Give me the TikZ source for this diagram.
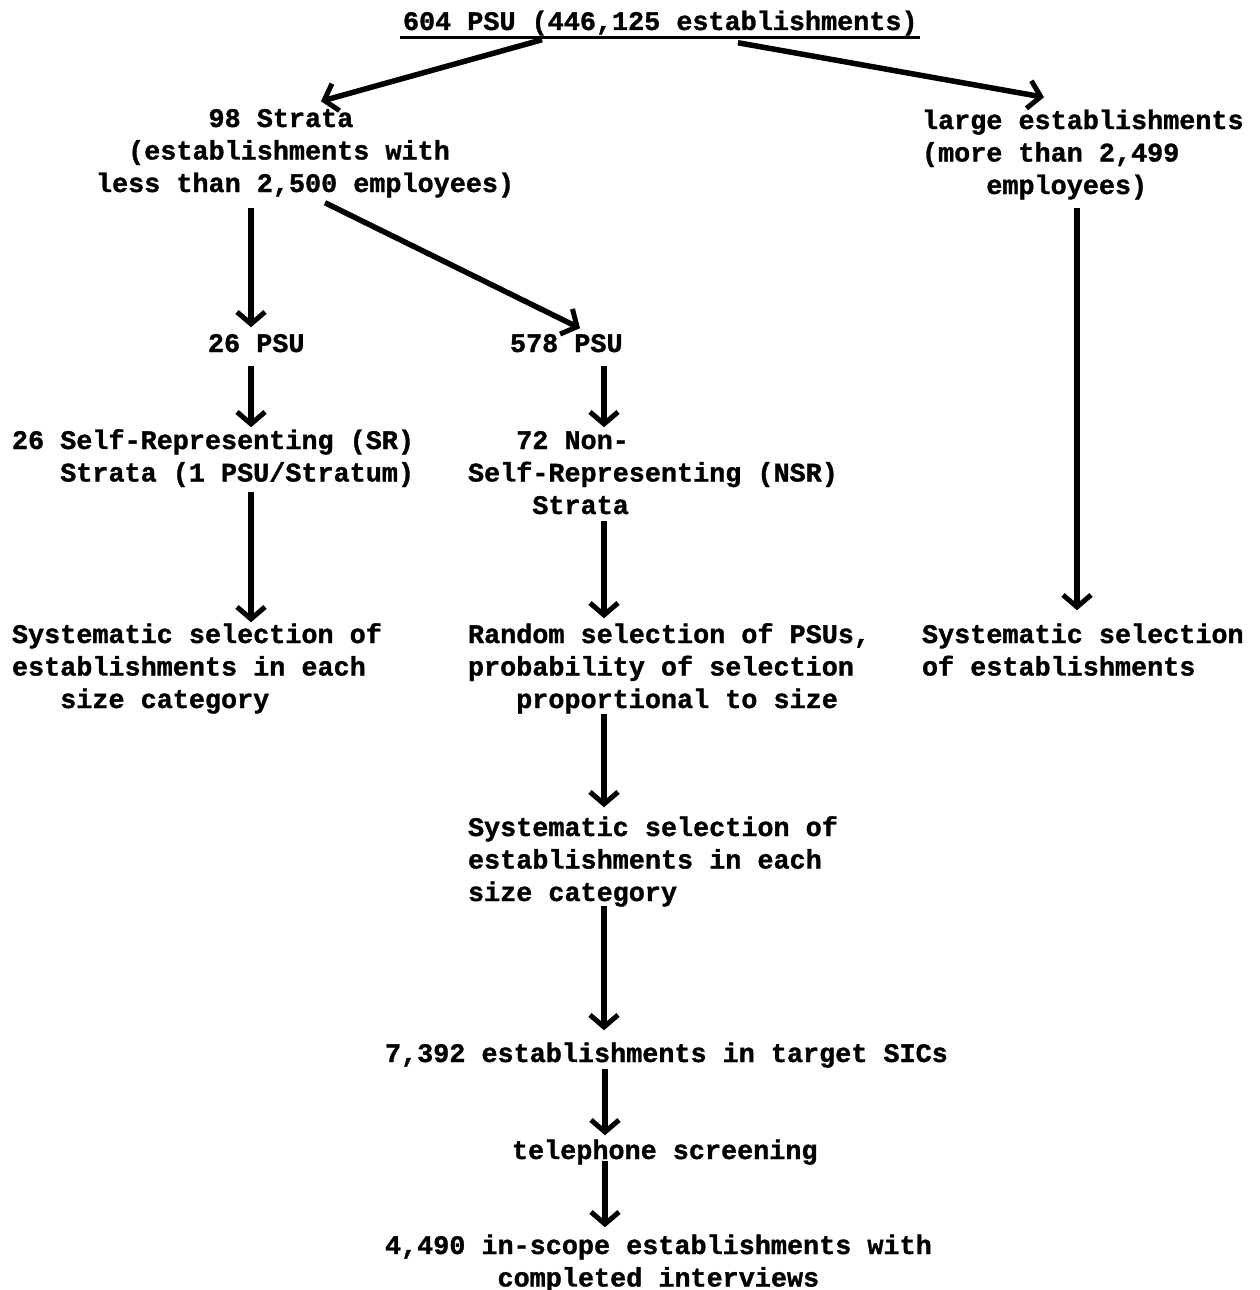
\documentclass[tikz,border=0pt]{standalone}
\usepackage{fontspec}
\newfontfamily\tw{Liberation Mono}[FakeBold=1.2]
\usetikzlibrary{arrows.meta}
\newlength\cw
\setlength\cw{16.08pt}
\newcommand\ind[1]{\hspace*{#1\cw}}
\begin{document}
\begin{tikzpicture}[x=1pt,y=-1pt,
  lbl/.style={anchor=north west,inner sep=0pt,outer sep=0pt,align=left,
    font=\tw\bfseries\fontsize{26.8pt}{32.5pt}\selectfont},
  arr/.style={line width=5.5pt,-{Straight Barb[length=12pt,width=28pt,line width=5pt]}},
  uline/.style={line width=3.5pt}]
\fill[white] (0,0) rectangle (1260,1290);
\useasboundingbox (0,0) rectangle (1260,1290);
% nodes
\node[lbl] (title) at (403,7.25) {604 PSU (446,125 establishments)\strut};
\node[lbl] (strata) at (96,104.25) {\ind{7}98 Strata\strut\\\ind{2}(establishments with\strut\\less than 2,500 employees)\strut};
\node[lbl] (large) at (922,106.25) {large establishments\strut\\(more than 2,499\strut\\\ind{4}employees)\strut};
\node[lbl] (psu26) at (208,329.25) {26 PSU\strut};
\node[lbl] (psu578) at (510,329.25) {578 PSU\strut};
\node[lbl] (sr) at (12,426.25) {26 Self-Representing (SR)\strut\\\ind{3}Strata (1 PSU/Stratum)\strut};
\node[lbl] (nsr) at (468,426.25) {\ind{3}72 Non-\strut\\Self-Representing (NSR)\strut\\\ind{4}Strata\strut};
\node[lbl] (sysL) at (12,620.25) {Systematic selection of\strut\\establishments in each\strut\\\ind{3}size category\strut};
\node[lbl] (random) at (468,620.25) {Random selection of PSUs,\strut\\probability of selection\strut\\\ind{3}proportional to size\strut};
\node[lbl] (sysR) at (922,620.25) {Systematic selection\strut\\of establishments\strut};
\node[lbl] (sysM) at (468,813.25) {Systematic selection of\strut\\establishments in each\strut\\size category\strut};
\node[lbl] (n7392) at (385,1039.25) {7,392 establishments in target SICs\strut};
\node[lbl] (tel) at (512,1136.25) {telephone screening\strut};
\node[lbl] (n4490) at (385,1231.25) {4,490 in-scope establishments with\strut\\\ind{7}completed interviews\strut};
% underline of the title
\draw[uline] ([xshift=-3pt,yshift=2pt]title.south west) -- ([xshift=2pt,yshift=2pt]title.south east);
% connectors
\draw[arr] ([xshift=139pt]title.south west) -- ([xshift=225pt,yshift=3pt]strata.north west);
\draw[arr] ([xshift=335pt,yshift=-3pt]title.south west) -- ([xshift=122pt,yshift=9pt]large.north west);
\draw[arr] ([xshift=155pt,yshift=-6pt]strata.south west) -- ([xshift=43pt,yshift=2pt]psu26.north west);
\draw[arr] ([xshift=229pt,yshift=-1pt]strata.south west) -- ([xshift=70pt,yshift=1pt]psu578.north west);
\draw[arr] ([xshift=43pt,yshift=-4pt]psu26.south west) -- ([xshift=239pt,yshift=-1pt]sr.north west);
\draw[arr] ([xshift=94pt,yshift=-4pt]psu578.south west) -- ([xshift=136pt,yshift=-1pt]nsr.north west);
\draw[arr] ([xshift=239pt,yshift=-1pt]sr.south west) -- ([xshift=239pt,yshift=-2pt]sysL.north west);
\draw[arr] ([xshift=136pt,yshift=3pt]nsr.south west) -- ([xshift=136pt,yshift=2pt]random.north west);
\draw[arr] ([xshift=155pt,yshift=-4pt]large.south west) -- ([xshift=155pt,yshift=10pt]sysR.north west);
\draw[arr] ([xshift=136pt,yshift=4pt]random.south west) -- ([xshift=136pt,yshift=6pt]sysM.north west);
\draw[arr] ([xshift=136pt,yshift=5pt]sysM.south west) -- ([xshift=219pt,yshift=9pt]n7392.north west);
\draw[arr] ([xshift=220pt,yshift=3pt]n7392.south west) -- ([xshift=93pt,yshift=1pt]tel.north west);
\draw[arr] ([xshift=93pt,yshift=8pt]tel.south west) -- ([xshift=220pt,yshift=4pt]n4490.north west);
\end{tikzpicture}
\end{document}
